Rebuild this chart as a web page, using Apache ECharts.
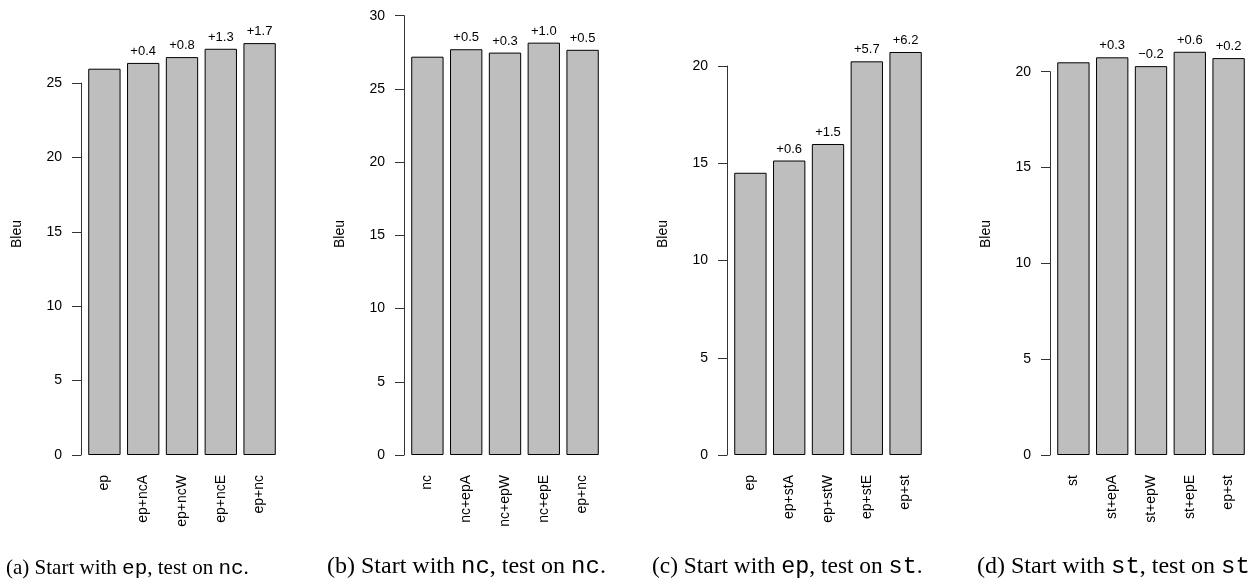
<!DOCTYPE html>
<html>
<head>
<meta charset="utf-8">
<script src="https://cdn.jsdelivr.net/npm/echarts@6/dist/echarts.min.js"></script>
<style>
  html, body { margin: 0; padding: 0; background: #ffffff; }
  #chart { width: 1250px; height: 584px; }
</style>
</head>
<body>
<div id="chart"></div>
<script>
// panel data (Bleu scores, gains as printed above them)
const catsA = ['ep', 'ep+ncA', 'ep+ncW', 'ep+ncE', 'ep+nc'];
const valsA = [25.96, 26.35, 26.74, 27.3, 27.68];
const gainsA = ['', '+0.4', '+0.8', '+1.3', '+1.7'];

const catsB = ['nc', 'nc+epA', 'nc+epW', 'nc+epE', 'ep+nc'];
const valsB = [27.2, 27.71, 27.48, 28.16, 27.67];
const gainsB = ['', '+0.5', '+0.3', '+1.0', '+0.5'];

const catsC = ['ep', 'ep+stA', 'ep+stW', 'ep+stE', 'ep+st'];
const valsC = [14.51, 15.14, 15.99, 20.24, 20.72];
const gainsC = ['', '+0.6', '+1.5', '+5.7', '+6.2'];

const catsD = ['st', 'st+epA', 'st+epW', 'st+epE', 'ep+st'];
const valsD = [20.49, 20.75, 20.29, 21.04, 20.71];
const gainsD = ['', '+0.3', '\u22120.2', '+0.6', '+0.2'];

const yMaxes = [25, 30, 20, 20];
const yTicks = 5;

const panels = [
  {cats: catsA, vals: valsA, gains: gainsA, left: 85, top: 83, start: 'ep', test: 'nc', tag: '(a)', dot: '.', capX: 6, capSize: 21},
  {cats: catsB, vals: valsB, gains: gainsB, left: 408, top: 15.7, start: 'nc', test: 'nc', tag: '(b)', dot: '.', capX: 327, capSize: 24},
  {cats: catsC, vals: valsC, gains: gainsC, left: 731, top: 66, start: 'ep', test: 'st', tag: '(c)', dot: '.', capX: 652, capSize: 23.4},
  {cats: catsD, vals: valsD, gains: gainsD, left: 1054, top: 71.7, start: 'st', test: 'st', tag: '(d)', dot: '', capX: 977, capSize: 24}
];

const gridW = 194;
const axisColor = '#333333';
const sans = 'Liberation Sans';

const grids = [], xAxes = [], yAxes = [], series = [], titles = [], texts = [];

panels.forEach(function (p, i) {
  grids.push({left: p.left, top: p.top, width: gridW, bottom: 129, containLabel: false});

  xAxes.push({
    type: 'category',
    gridIndex: i,
    data: p.cats,
    axisLine: {show: false},
    axisTick: {show: false},
    axisLabel: {rotate: 90, margin: 20, color: '#000', fontFamily: sans, fontSize: 14, interval: 0}
  });

  yAxes.push({
    type: 'value',
    gridIndex: i,
    min: 0,
    max: yMaxes[i],
    interval: yTicks,
    offset: 4,
    splitLine: {show: false},
    axisLine: {show: true, lineStyle: {color: axisColor, width: 1}},
    axisTick: {show: true, length: 9, lineStyle: {color: axisColor, width: 1}},
    axisLabel: {margin: 19, color: '#000', fontFamily: sans, fontSize: 14}
  });

  series.push({
    type: 'bar',
    xAxisIndex: i,
    yAxisIndex: i,
    data: p.vals,
    clip: false,
    barCategoryGap: '16.67%',
    itemStyle: {color: '#bebebe', borderColor: '#000', borderWidth: 1},
    label: {
      show: true,
      position: 'top',
      distance: 5,
      color: '#000',
      fontFamily: sans,
      fontSize: 13,
      formatter: function (d) { return p.gains[d.dataIndex]; }
    },
    silent: true
  });

  // y axis title, R puts it in the middle of the plot region
  texts.push({
    type: 'text',
    x: p.left - 4 - 64,
    y: 234,
    rotation: Math.PI / 2,
    style: {text: 'Bleu', fill: '#000', font: '14px "Liberation Sans"', textAlign: 'center', textVerticalAlign: 'middle'}
  });

  // sub-figure caption, baselines kept level
  titles.push({
    text: '{s|' + p.tag + ' Start with }{m|' + p.start + '}{s|, test on }{m|' + p.test + '}{s|' + p.dot + '}',
    left: p.capX,
    top: 555 + (24 - p.capSize) * 0.9,
    padding: 0,
    textStyle: {
      rich: {
        s: {fontFamily: 'Liberation Serif', fontSize: p.capSize, fontWeight: 'normal', color: '#000'},
        m: {fontFamily: 'Liberation Mono', fontSize: p.capSize, fontWeight: 'normal', color: '#000'}
      }
    }
  });
});

const chart = echarts.init(document.getElementById('chart'), null, {renderer: 'canvas'});
chart.setOption({
  backgroundColor: '#ffffff',
  animation: false,
  title: titles,
  grid: grids,
  xAxis: xAxes,
  yAxis: yAxes,
  series: series,
  graphic: texts
});
</script>
</body>
</html>
